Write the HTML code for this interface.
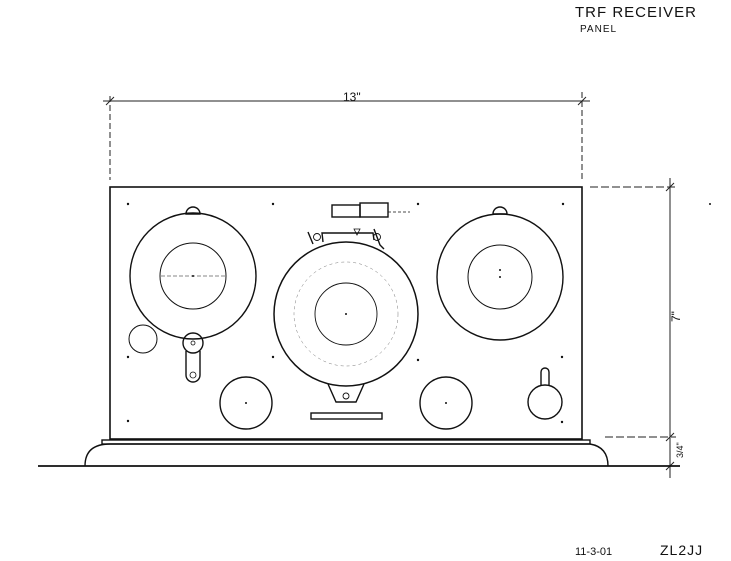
<!DOCTYPE html>
<html><head><style>
html,body{margin:0;padding:0;background:#fff}
svg{display:block}
text{font-family:"Liberation Sans",sans-serif;fill:#111}
</style></head><body>
<svg width="731" height="561" viewBox="0 0 731 561" xmlns="http://www.w3.org/2000/svg">
<g fill="none" stroke="#111" stroke-width="1.3">
<!-- title -->
</g>
<text x="575" y="17" font-size="15" letter-spacing="1">TRF RECEIVER</text>
<text x="580" y="32" font-size="10" letter-spacing="1">PANEL</text>
<text x="343" y="101" font-size="12">13"</text>
<text x="680" y="322" font-size="12" transform="rotate(-90 680 322)">7"</text>
<text x="683" y="458" font-size="9" transform="rotate(-90 683 458)">3/4"</text>
<text x="575" y="555" font-size="11">11-3-01</text>
<text x="660" y="555" font-size="14" letter-spacing="1">ZL2JJ</text>
<g fill="none" stroke="#222" stroke-width="1">
<!-- 13" dimension -->
<line x1="103" y1="101" x2="590" y2="101"/>
<line x1="110" y1="96" x2="110" y2="180" stroke-dasharray="6 3"/>
<line x1="582" y1="92" x2="582" y2="180" stroke-dasharray="6 3"/>
<line x1="106" y1="105" x2="114" y2="97"/><line x1="578" y1="105" x2="586" y2="97"/>
<!-- vertical dims -->
<line x1="670" y1="178" x2="670" y2="478"/>
<line x1="590" y1="187" x2="676" y2="187" stroke-dasharray="8 3"/>
<line x1="605" y1="437" x2="676" y2="437" stroke-dasharray="8 3"/>
<line x1="666" y1="191" x2="674" y2="183"/><line x1="666" y1="441" x2="674" y2="433"/><line x1="666" y1="470" x2="674" y2="462"/>
</g>
<g fill="none" stroke="#111" stroke-width="1.4">
<!-- panel -->
<rect x="110" y="187" width="472" height="252" stroke-width="1.6"/>
<!-- base -->
<rect x="102" y="440" width="488" height="4"/>
<path d="M85 466 Q85 444 110 444 L590 444 Q608 447 608 466"/>
<line x1="38" y1="466" x2="680" y2="466" stroke-width="1.8"/>
<!-- left dial -->
<circle cx="193" cy="276" r="63"/>
<circle cx="193" cy="276" r="33" stroke-width="1"/>
<line x1="161" y1="276" x2="225" y2="276" stroke-width="0.6" stroke-dasharray="4 2"/>
<path d="M186 214 A7 7 0 0 1 200 214 Z"/>
<circle cx="143" cy="339" r="14" stroke-width="1"/>
<!-- lever -->
<circle cx="193" cy="343" r="10"/>
<circle cx="193" cy="343" r="2" stroke-width="0.8"/>
<path d="M186 351 L186 375 A7 7 0 0 0 200 375 L200 351"/>
<circle cx="193" cy="375" r="3" stroke-width="0.8"/>
<!-- right dial -->
<circle cx="500" cy="277" r="63"/>
<circle cx="500" cy="277" r="32" stroke-width="1"/>
<path d="M493 214 A7 7 0 0 1 507 214 Z"/>
<!-- middle dial -->
<circle cx="346" cy="314" r="72" stroke-width="1.5"/>
<circle cx="346" cy="314" r="52" stroke-width="0.5" stroke-dasharray="3 3" stroke="#777"/>
<circle cx="346" cy="314" r="31" stroke-width="0.9"/>
<path d="M328 384 L336 402 L356 402 L364 384"/>
<circle cx="346" cy="396" r="3" stroke-width="0.9"/>
<rect x="311" y="413" width="71" height="6"/>
<!-- top vernier -->
<path d="M313 244 L308 232 M323 242 L322 233 L373 233 L374 240 M374 229 L380 245 L384 249"/>
<circle cx="317" cy="237" r="3.5" stroke-width="0.9"/>
<circle cx="377" cy="237" r="3.5" stroke-width="0.9"/>
<path d="M354 229 L360 229 L357 235 Z" stroke-width="0.8"/>
<rect x="332" y="205" width="28" height="12"/>
<rect x="360" y="203" width="28" height="14"/>
<line x1="388" y1="212" x2="410" y2="212" stroke-width="0.8" stroke-dasharray="3 2"/>
<!-- bottom knobs -->
<circle cx="246" cy="403" r="26"/>
<circle cx="446" cy="403" r="26"/>
<circle cx="545" cy="402" r="17"/>
<path d="M541 386 L541 372 A4 4 0 0 1 549 372 L549 386"/>
</g>
<g fill="#111">
<circle cx="128" cy="204" r="1.2"/><circle cx="273" cy="204" r="1.2"/><circle cx="418" cy="204" r="1.2"/><circle cx="563" cy="204" r="1.2"/>
<circle cx="128" cy="357" r="1.2"/><circle cx="273" cy="357" r="1.2"/><circle cx="418" cy="360" r="1.2"/><circle cx="562" cy="357" r="1.2"/>
<circle cx="128" cy="421" r="1.2"/><circle cx="562" cy="422" r="1.2"/>
<circle cx="193" cy="276" r="1"/><circle cx="500" cy="270" r="1"/><circle cx="500" cy="277" r="1"/><circle cx="346" cy="314" r="1"/>
<circle cx="246" cy="403" r="1"/><circle cx="446" cy="403" r="1"/><circle cx="710" cy="204" r="1"/>
</g>
</svg>
</body></html>
